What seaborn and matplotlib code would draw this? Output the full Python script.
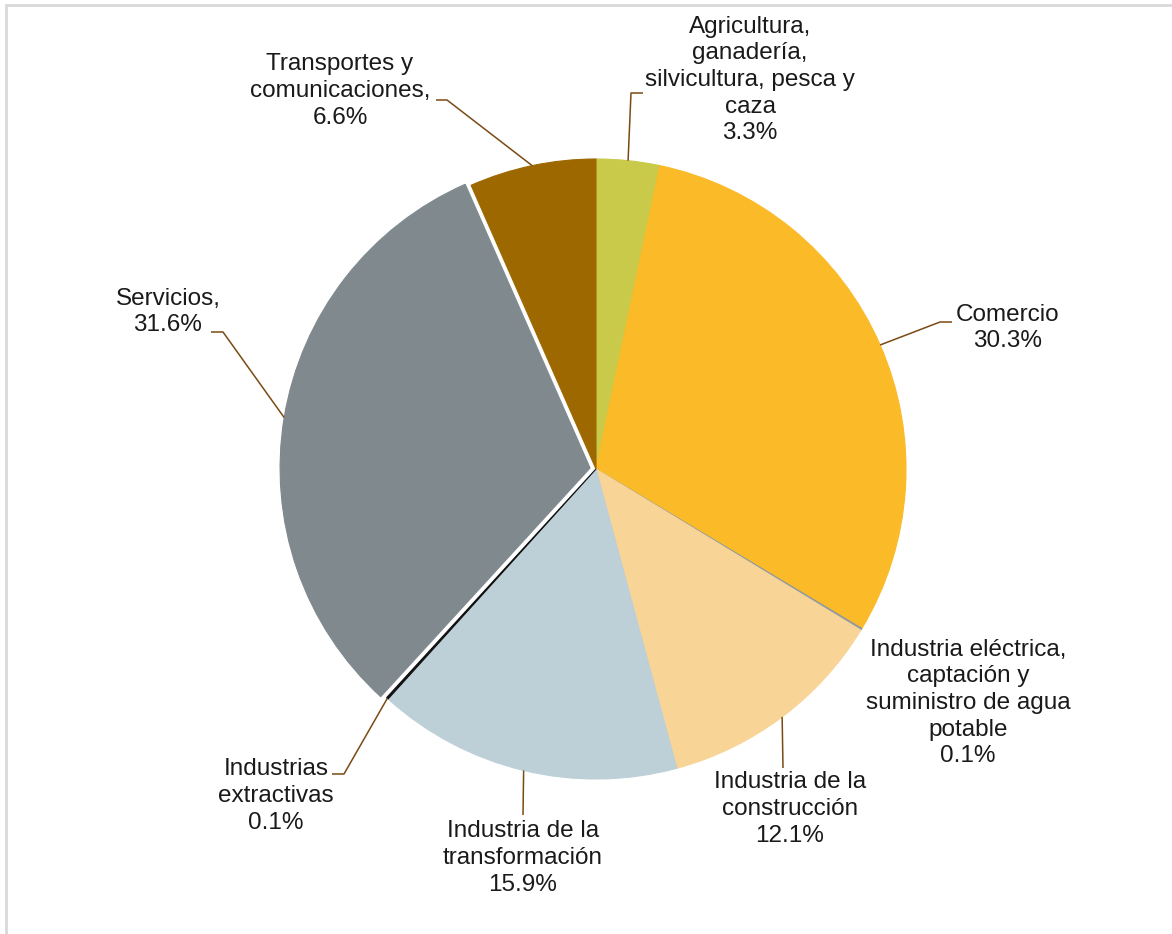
import numpy as np
import matplotlib
matplotlib.use("Agg")
import matplotlib.pyplot as plt
from matplotlib.patches import Rectangle
import seaborn as sns

# ---- data ----
categories = [
    "Agricultura,\nganadería,\nsilvicultura, pesca y\ncaza",
    "Comercio",
    "Industria eléctrica,\ncaptación y\nsuministro de agua\npotable",
    "Industria de la\nconstrucción",
    "Industria de la\ntransformación",
    "Industrias\nextractivas",
    "Servicios,",
    "Transportes y\ncomunicaciones,",
]
values = [3.3, 30.3, 0.1, 12.1, 15.9, 0.1, 31.6, 6.6]
pct_labels = ["3.3%", "30.3%", "0.1%", "12.1%", "15.9%", "0.1%", "31.6%", "6.6%"]
colors = ["#C9C94A", "#FBBA27", "#8D98A3", "#F8D496", "#BDCFD7", "#111111", "#7F898E", "#9E6800"]
explode = [0, 0, 0, 0, 0, 0, 6, 0]

# ---- layout (pixel coordinates, y from top) ----
W, H = 1172, 934
center_px = (596, 469)
radius_px = 310
label_pos = [(750, 80), (1008, 328), (968, 703), (790, 809), (523, 858), (276, 796), (168, 312), (340, 91)]
# leader lines: elbow and end points (None = no leader)
leader_pts = [
    [(631, 93), (643, 93)],
    [(940, 322), (952, 322)],
    None,
    [(783, 768)],
    [(523, 815)],
    [(344, 774), (332, 774)],
    [(223, 332), (211, 332)],
    [(447, 100), (436, 100)],
]

sns.set_style("white")
plt.rcParams["font.family"] = ["Liberation Sans", "DejaVu Sans"]

fig = plt.figure(figsize=(W / 100, H / 100), dpi=100)
ax = fig.add_axes([0, 0, 1, 1])
ax.set_xlim(0, W)
ax.set_ylim(0, H)
ax.set_aspect("equal")
ax.axis("off")

pal = sns.color_palette(colors)
cx, cy = center_px[0], H - center_px[1]
wedges, _ = ax.pie(values, colors=pal, startangle=90, counterclock=False,
                   center=(cx, cy), radius=radius_px, explode=explode,
                   wedgeprops=dict(linewidth=0))
for w in wedges:
    w.set_edgecolor(w.get_facecolor())
    w.set_linewidth(0.8)
ax.set_xlim(0, W)
ax.set_ylim(0, H)

# leader lines from wedge mid-angles
total = sum(values)
cum = 0.0
leader_color = "#7A4A14"
for i, v in enumerate(values):
    mid = (cum + v / 2) / total * 360.0
    cum += v
    if leader_pts[i] is None:
        continue
    ang = np.deg2rad(90 - mid)
    ox = explode[i] * np.cos(ang)
    oy = explode[i] * np.sin(ang)
    sx = cx + ox + radius_px * np.cos(ang)
    sy = cy + oy + radius_px * np.sin(ang)
    xs = [sx] + [p[0] for p in leader_pts[i]]
    ys = [sy] + [H - p[1] for p in leader_pts[i]]
    ax.plot(xs, ys, color=leader_color, linewidth=1.1, solid_capstyle="butt")

for cat, pct, (lx, ly) in zip(categories, pct_labels, label_pos):
    ax.text(lx, H - ly, cat + "\n" + pct, ha="center", va="center",
            fontsize=17.5, color="#1a1a1a", linespacing=1.27)

# outer border
fig.patches.append(Rectangle((6 / W, 0 - 0.01), 1.1, (H - 5) / H + 0.01,
                             transform=fig.transFigure, fill=False,
                             edgecolor="#D9D9D9", linewidth=2))

fig.savefig("out.png", dpi=100)
